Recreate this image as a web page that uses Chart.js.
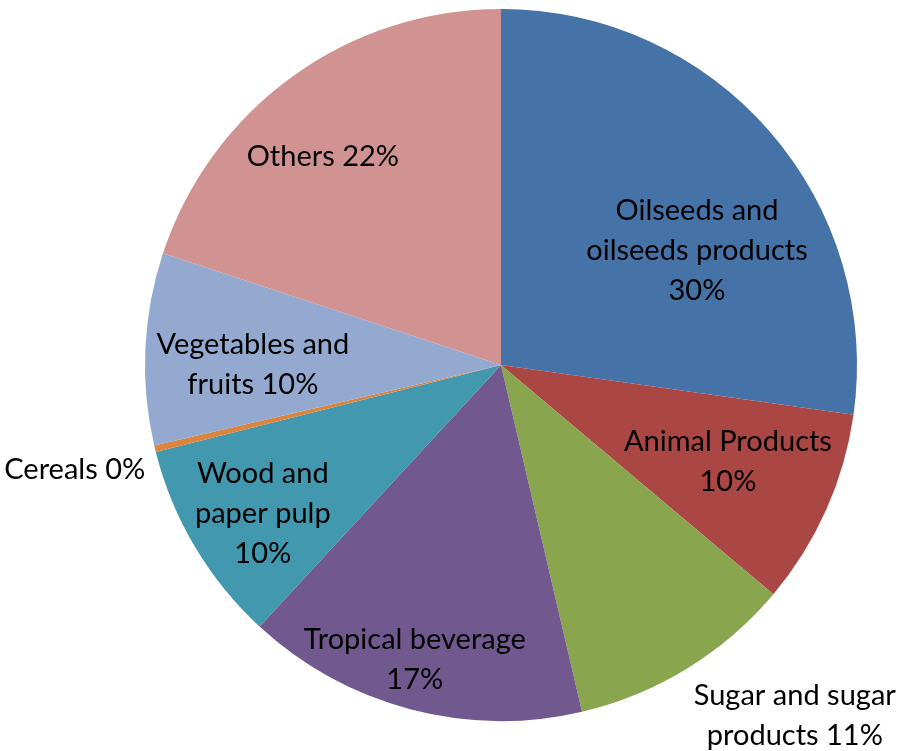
<!DOCTYPE html>
<html>
<head>
<meta charset="utf-8">
<script src="https://cdn.jsdelivr.net/npm/chart.js@4"></script>
<style>
  html, body { margin: 0; padding: 0; background: #fff; }
  #wrap { width: 903px; height: 751px; }
</style>
</head>
<body>
<div id="wrap"><canvas id="chart" width="903" height="751"></canvas></div>
<script>
// Categories and shares
const categories = ["Oilseeds and oilseeds products", "Animal Products", "Sugar and sugar products",
  "Tropical beverage", "Wood and paper pulp", "Cereals", "Vegetables and fruits", "Others"];
const shares = [27.2, 8.9, 10.2, 15.5, 9.2, 0.3, 8.7, 19.9];
// Labels as printed on the chart
const labelLines = [
  ["Oilseeds and", "oilseeds products", "30%"],
  ["Animal Products", "10%"],
  ["Sugar and sugar", "products 11%"],
  ["Tropical beverage", "17%"],
  ["Wood and", "paper pulp", "10%"],
  ["Cereals 0%"],
  ["Vegetables and", "fruits 10%"],
  ["Others 22%"]
];
const colors = ["#4572A7", "#AA4643", "#89A54E", "#71588F", "#4198AF", "#DB843D", "#93A9CF", "#D19392"];

// label anchor: angle (deg clockwise from 12 o'clock) and radius fraction
const labelPos = [[59.8, 0.637], [113.1, 0.693], [140.0, 1.284], [196.3, 0.863],
  [238, 0.789], [256.2, 1.233], [270, 0.697], [319.4, 0.769]];

const pieLabels = {
  id: "pieLabels",
  afterDatasetsDraw(chart) {
    const ctx = chart.ctx;
    const arc = chart.getDatasetMeta(0).data[0];
    const cx = arc.x, cy = arc.y, r = arc.outerRadius;
    ctx.save();
    ctx.font = "29px Lato";
    ctx.fillStyle = "#000";
    ctx.textAlign = "center";
    ctx.textBaseline = "middle";
    labelLines.forEach((lines, i) => {
      const a = labelPos[i][0] * Math.PI / 180;
      const x = cx + Math.sin(a) * r * labelPos[i][1];
      const y = cy - Math.cos(a) * r * labelPos[i][1];
      const lh = 40;
      lines.forEach((t, k) => {
        ctx.fillText(t, x, y + (k - (lines.length - 1) / 2) * lh);
      });
    });
    ctx.restore();
  }
};

new Chart(document.getElementById("chart"), {
  type: "pie",
  data: {
    labels: categories,
    datasets: [{ data: shares, backgroundColor: colors, borderWidth: 0 }]
  },
  options: {
    responsive: false,
    animation: false,
    layout: { padding: { top: 9, bottom: 30, left: 99, right: 0 } },
    plugins: { legend: { display: false }, tooltip: { enabled: false } }
  },
  plugins: [pieLabels]
});
</script>
</body>
</html>
